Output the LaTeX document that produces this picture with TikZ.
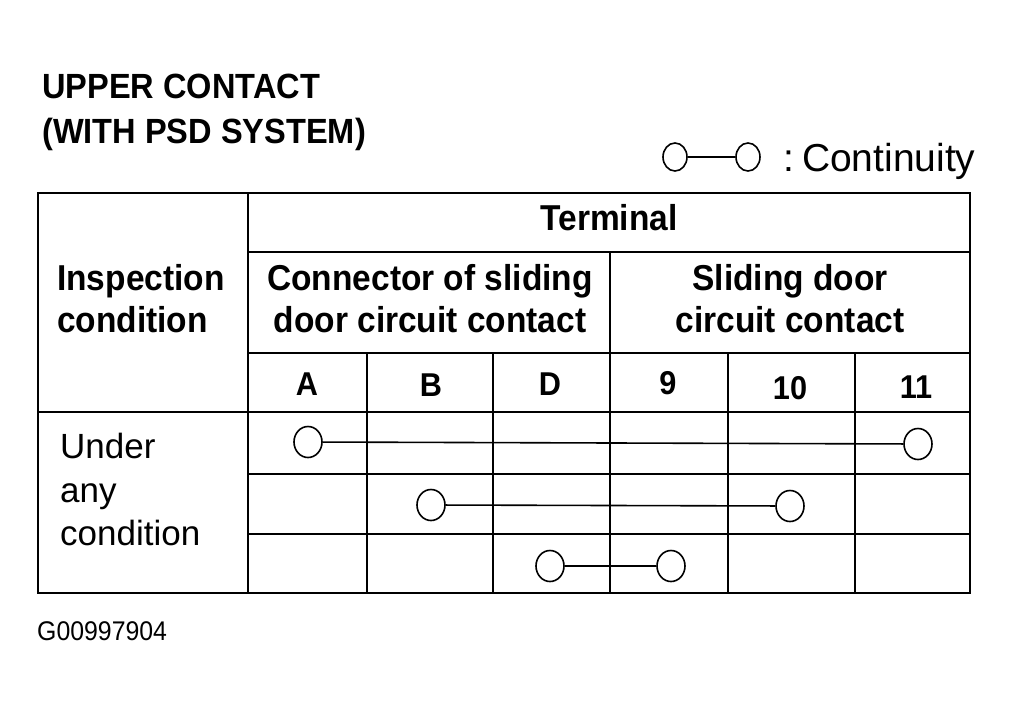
\documentclass[tikz,border=0pt]{standalone}
\usepackage{fontspec}
\setmainfont{Liberation Sans}[BoldFeatures={FakeStretch=0.93}]
\newfontfamily\narrowreg{Liberation Sans}[FakeStretch=0.92]
\usetikzlibrary{shapes.geometric}
\begin{document}
\begin{tikzpicture}[x=1pt,y=-1pt,
 grid/.style={line width=2pt},
 frame/.style={line width=2.6pt},
 hd/.style={font=\fontsize{36}{40}\selectfont\bfseries, inner sep=0pt, anchor=base},
 hdl/.style={font=\fontsize{36}{40}\selectfont\bfseries, inner sep=0pt, anchor=base west},
 col/.style={font=\fontsize{33}{40}\selectfont\bfseries, inner sep=0pt, anchor=base},
 ttl/.style={font=\fontsize{35}{40}\selectfont\bfseries, inner sep=0pt, anchor=base west},
 bod/.style={font=\fontsize{35}{42}\selectfont, inner sep=0pt, anchor=base west},
 term/.style={draw, ellipse, line width=1.6pt, minimum width=28pt, minimum height=31pt, inner sep=0pt, fill=white},
 lterm/.style={draw, ellipse, line width=1.6pt, minimum width=24pt, minimum height=28pt, inner sep=0pt, fill=white},
 link/.style={line width=1.6pt}]
\useasboundingbox (0,0) rectangle (1012,717);

% title
\node[ttl] (t1) at (42,99) {UPPER CONTACT};
\node[ttl] (t2) at (42,143) {(WITH PSD SYSTEM)};

% legend
\node[lterm] (la) at (675,157) {};
\node[lterm] (lb) at (748,157) {};
\draw[link] (la) -- (lb);
\node[font=\fontsize{39}{44}\selectfont, inner sep=0pt, anchor=base west] (leg) at (783,171) {:\hspace{8pt}Continuity};

% table grid
\draw[frame] (38,193) rectangle (970,593);
\draw[grid] (248,193) -- (248,593);
\draw[grid] (248,252) -- (970,252);
\draw[grid] (248,353) -- (970,353);
\draw[grid] (610,252) -- (610,593);
\draw[grid] (38,412) -- (970,412);
\foreach \x in {367,493,728,855} \draw[grid] (\x,353) -- (\x,593);
\foreach \y in {474,534} \draw[grid] (248,\y) -- (970,\y);

% headers
\node[hd] (term) at (609,230) {Terminal};
\node[hd] (c1) at (430,290) {Connector of sliding};
\node[hd] (c2) at (430,332) {door circuit contact};
\node[hd] (s1) at (790,290) {Sliding door};
\node[hd] (s2) at (790,332) {circuit contact};
\node[hdl] (i1) at (57,290) {Inspection};
\node[hdl] (i2) at (57,332) {condition};

\node[col] (hA) at (307,395) {A};
\node[col] (hB) at (431,396) {B};
\node[col] (hD) at (550,395) {D};
\node[col] (h9) at (668,394) {9};
\node[col] (h10) at (790,399) {10};
\node[col] (h11) at (916,398) {11};

% condition
\node[bod] (u1) at (60,458) {Under};
\node[bod] (u2) at (60,502) {any};
\node[bod] (u3) at (60,545) {condition};

% continuity marks
\node[term] (r1a) at (308,442) {};
\node[term] (r1b) at (918,444) {};
\draw[link] (r1a) -- (r1b);
\node[term] (r2a) at (431,505) {};
\node[term] (r2b) at (790,506) {};
\draw[link] (r2a) -- (r2b);
\node[term] (r3a) at (550,566) {};
\node[term] (r3b) at (671,566) {};
\draw[link] (r3a) -- (r3b);

% code
\node[font=\narrowreg\fontsize{27}{30}\selectfont, inner sep=0pt, anchor=base west] (code) at (37,640) {G00997904};
\end{tikzpicture}
\end{document}
